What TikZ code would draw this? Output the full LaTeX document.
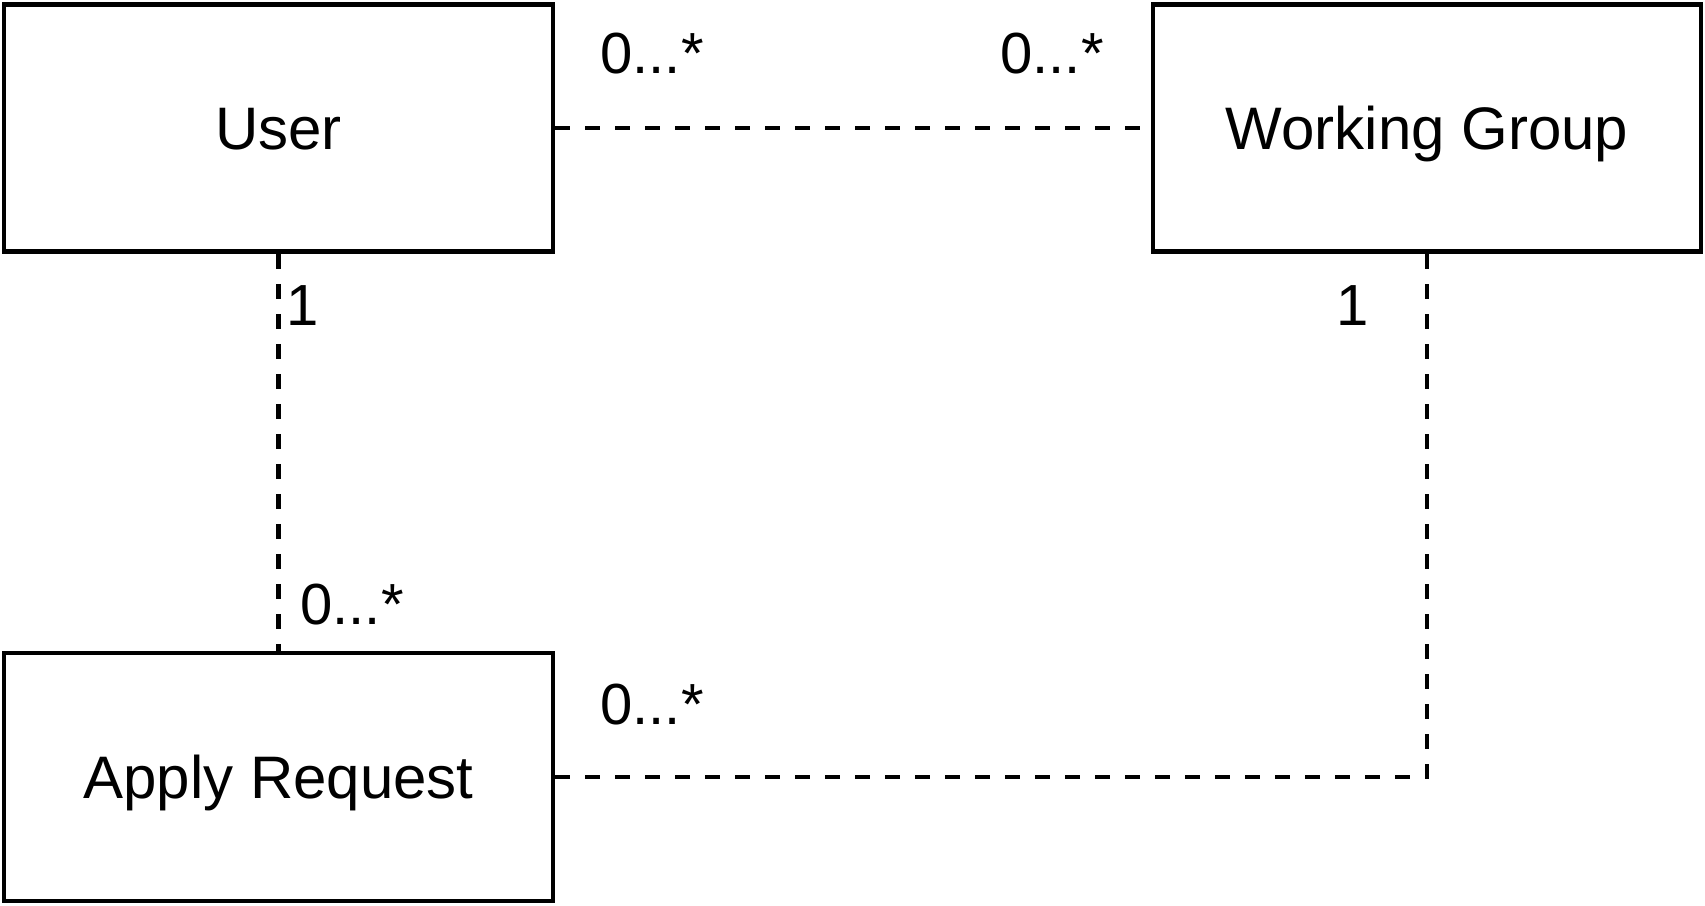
\documentclass[tikz,border=0pt]{standalone}
\usepackage{fontspec}
\setmainfont{Liberation Sans}
\begin{document}
\begin{tikzpicture}[x=1pt,y=-1pt,
  box/.style={draw=black,line width=4.5pt,fill=white,inner sep=0pt,text height=43pt,text depth=0pt,font=\fontsize{60}{72}\selectfont},
  assoc/.style={draw=black,line width=4.5pt,dash pattern=on 15pt off 15pt},
  mult/.style={inner sep=0pt,anchor=center,font=\fontsize{58}{70}\selectfont}]
\useasboundingbox (0,0) rectangle (1705,905);
\node[box,minimum width=549pt,minimum height=247pt] (user) at (278.5,128) {User};
\node[box,minimum width=548pt,minimum height=247pt] (wg) at (1427,128) {Working Group};
\node[box,minimum width=549pt,minimum height=248pt] (apply) at (278.5,777) {Apply Request};
\coordinate (corner) at (1427,777);
\draw[assoc] (user.east) -- (wg.west);
\draw[assoc] (user.south) -- (apply.north);
\draw[assoc] (apply.east) -- (corner) -- (wg.south);
\node[mult] (m1) at (652,54) {0...*};
\node[mult] (m2) at (1052,54) {0...*};
\node[mult] (m3) at (303,306) {1};
\node[mult] (m4) at (1353,306) {1};
\node[mult] (m5) at (352,605) {0...*};
\node[mult] (m6) at (652,705) {0...*};
\end{tikzpicture}
\end{document}
